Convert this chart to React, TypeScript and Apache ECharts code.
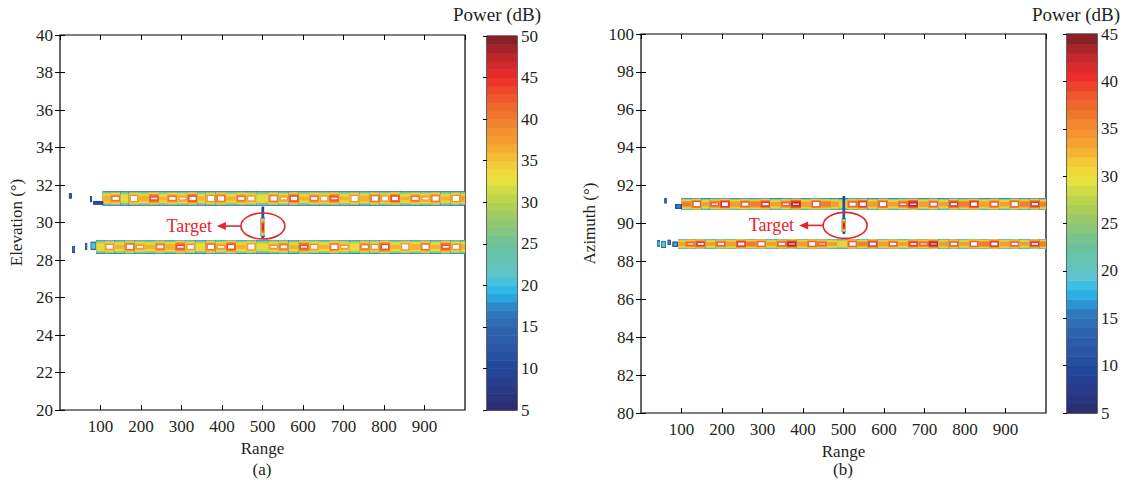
import React, { useEffect, useRef } from "react";
import * as echarts from "echarts";

// ---------------- data ----------------
const RANGE_MIN = 0;
const RANGE_MAX = 1000;
const ELEV_MIN = 20;
const ELEV_MAX = 40;
const AZ_MIN = 80;
const AZ_MAX = 100;
const CB_A = [5, 50];
const CB_B = [5, 45];

// clutter ridges: [rangeFrom, rangeTo, peak power dB]
const A_UPPER_CENTER = 31.28;
const A_UPPER_HALF = 0.36;
const A_UPPER_SEGS: number[][] = [
  [105, 125, 37], [125, 150, 41], [150, 170, 35], [170, 195, 40],
  [195, 220, 37], [220, 245, 43], [245, 265, 36], [265, 290, 41], [290, 315, 38],
  [315, 340, 44], [340, 360, 36], [360, 385, 40], [385, 410, 42], [410, 435, 36],
  [435, 460, 41], [460, 485, 39], [485, 515, 35], [515, 540, 42], [540, 565, 38],
  [565, 590, 44], [590, 615, 36], [615, 640, 41], [640, 665, 39], [665, 690, 43],
  [690, 715, 36], [715, 740, 40], [740, 765, 37], [765, 790, 42], [790, 815, 39],
  [815, 840, 44], [840, 865, 36], [865, 890, 41], [890, 915, 38], [915, 940, 42],
  [940, 965, 36], [965, 990, 40], [990, 1000, 38],
];
// isolated blobs / thin pieces: [rangeFrom, rangeTo, center, halfWidth, peak]
const A_UPPER_DOTS: number[][] = [
  [22, 28, 31.42, 0.14, 14],
  [74, 78, 31.25, 0.16, 12],
  [82, 106, 31.05, 0.1, 12],
];

const A_LOWER_CENTER = 28.7;
const A_LOWER_HALF = 0.36;
const A_LOWER_SEGS: number[][] = [
  [90, 110, 35], [110, 135, 39], [135, 160, 36], [160, 185, 42],
  [185, 210, 38], [210, 235, 36], [235, 260, 41], [260, 285, 37], [285, 310, 43],
  [310, 335, 39], [335, 360, 35], [360, 385, 42], [385, 410, 38], [410, 435, 44],
  [435, 460, 36], [460, 485, 40], [485, 515, 34], [515, 540, 38], [540, 565, 41],
  [565, 590, 36], [590, 615, 43], [615, 640, 39], [640, 665, 36], [665, 690, 42],
  [690, 715, 38], [715, 740, 35], [740, 765, 41], [765, 790, 39], [790, 815, 44],
  [815, 840, 36], [840, 865, 40], [865, 890, 37], [890, 915, 42], [915, 940, 36],
  [940, 965, 43], [965, 990, 39], [990, 1000, 37],
];
const A_LOWER_DOTS: number[][] = [
  [30, 36, 28.55, 0.18, 16],
  [62, 66, 28.72, 0.18, 16],
  [76, 88, 28.75, 0.22, 24],
];
// target: [rangeFrom, rangeTo, center, halfWidth, peak]
const A_TARGET: number[][] = [
  [498, 503, 30.0, 0.85, 14],
  [496, 505, 29.75, 0.5, 47],
];

const B_UPPER_CENTER = 91.02;
const B_UPPER_HALF = 0.3;
const B_UPPER_SEGS: number[][] = [
  [100, 125, 36], [125, 150, 40], [150, 170, 34], [170, 195, 38],
  [195, 220, 42], [220, 245, 35], [245, 270, 39], [270, 295, 37], [295, 320, 41],
  [320, 345, 34], [345, 370, 38], [370, 395, 43], [395, 420, 35], [420, 445, 40],
  [445, 470, 37], [470, 490, 35], [490, 510, 32], [510, 535, 39], [535, 560, 42],
  [560, 585, 35], [585, 610, 40], [610, 635, 34], [635, 660, 38], [660, 685, 43],
  [685, 710, 35], [710, 735, 39], [735, 760, 34], [760, 785, 41], [785, 810, 37],
  [810, 835, 42], [835, 860, 35], [860, 885, 39], [885, 910, 34], [910, 935, 40],
  [935, 960, 37], [960, 985, 41], [985, 1000, 36],
];
const B_UPPER_DOTS: number[][] = [
  [58, 62, 91.2, 0.14, 14],
  [84, 100, 90.9, 0.12, 16],
];

const B_LOWER_CENTER = 88.92;
const B_LOWER_HALF = 0.26;
const B_LOWER_SEGS: number[][] = [
  [92, 110, 34], [110, 135, 38], [135, 160, 41], [160, 185, 34], [185, 210, 39],
  [210, 235, 35], [235, 260, 42], [260, 285, 37], [285, 310, 40], [310, 335, 34],
  [335, 360, 39], [360, 385, 43], [385, 410, 35], [410, 435, 40], [435, 460, 38],
  [460, 485, 34], [485, 510, 32], [510, 535, 40], [535, 560, 36], [560, 585, 42],
  [585, 610, 35], [610, 635, 39], [635, 660, 34], [660, 685, 41], [685, 710, 38],
  [710, 735, 43], [735, 760, 35], [760, 785, 39], [785, 810, 34], [810, 835, 40],
  [835, 860, 37], [860, 885, 42], [885, 910, 35], [910, 935, 39], [935, 960, 34],
  [960, 985, 41], [985, 1000, 37],
];
const B_LOWER_DOTS: number[][] = [
  [40, 46, 88.95, 0.16, 20],
  [50, 60, 88.9, 0.18, 24],
  [66, 72, 89.0, 0.14, 16],
  [78, 90, 88.9, 0.14, 18],
];
const B_TARGET: number[][] = [
  [498, 503, 90.45, 1.0, 13],
  [496, 505, 89.9, 0.35, 43],
];

// annotation anchor (range, angle) of the target ellipse
const A_MARK = [501, 29.81];
const B_MARK = [504, 89.9];

// ---------------- colour map ----------------
const CMAP: [number, string][] = [
  [0.0, "#2b2c6c"], [0.07, "#283c8c"], [0.11, "#22469a"], [0.18, "#2b5aa7"],
  [0.22, "#2e66af"], [0.27, "#2f7ec0"], [0.3, "#27a6df"], [0.33, "#33bfe9"],
  [0.36, "#5ec3cc"], [0.44, "#6bc19e"], [0.51, "#98c86a"], [0.56, "#b8d34e"],
  [0.62, "#ece43b"], [0.67, "#f5c435"], [0.71, "#f6a230"], [0.78, "#f07d2d"],
  [0.84, "#ee552b"], [0.89, "#ec2c2a"], [0.94, "#c4272c"], [1.0, "#7a1e24"],
];
function hexToRgb(h: string) {
  return [parseInt(h.slice(1, 3), 16), parseInt(h.slice(3, 5), 16), parseInt(h.slice(5, 7), 16)];
}
function colorAt(t: number) {
  t = Math.max(0, Math.min(1, t));
  for (let i = 1; i < CMAP.length; i++) {
    if (t <= CMAP[i][0]) {
      const [t0, c0] = CMAP[i - 1];
      const [t1, c1] = CMAP[i];
      const f = (t - t0) / (t1 - t0 || 1);
      const a = hexToRgb(c0), b = hexToRgb(c1);
      const r = a.map((v, k) => Math.round(v + (b[k] - v) * f));
      return `rgb(${r[0]},${r[1]},${r[2]})`;
    }
  }
  return CMAP[CMAP.length - 1][1];
}

const FONT = "Liberation Serif";
const TXT = "#231f20";

function bandItems(segs: number[][], center: number, half: number) {
  return segs.map((s) => [s[0], s[1], center, half, s[2], 0]);
}
function blobItems(blobs: number[][], inset: number) {
  return blobs.map((b) => [b[0], b[1], b[2], b[3], b[4], inset]);
}

function makeRender(vmin: number, vmax: number) {
  return (params: any, api: any) => {
    const r0 = api.value(0), r1 = api.value(1), c = api.value(2), hw = api.value(3), pk = api.value(4), inset = api.value(5);
    const children: any[] = [];
    const levels: number[] = [];
    for (let L = vmin; L < pk; L += 2.5) levels.push(L);
    levels.forEach((L, i) => {
      const t = (L - vmin) / (pk - vmin);
      const f = Math.sqrt(Math.max(0, 1 - Math.pow(t, inset ? 2 : 3)));
      const h = hw * f;
      let x0 = r0, x1 = r1;
      if (inset) {
        const mid = (r0 + r1) / 2;
        const hx = ((r1 - r0) / 2) * Math.max(f, 0.35);
        x0 = mid - hx;
        x1 = mid + hx;
      }
      const p0 = api.coord([x0, c + h]);
      const p1 = api.coord([x1, c - h]);
      const col = colorAt((L + 1.25 - vmin) / (vmax - vmin));
      const last = i === levels.length - 1 && levels.length > 13 && !inset;
      children.push({
        type: "rect",
        shape: last
          ? { x: p0[0] + 1.5, y: p0[1], width: Math.max(0, p1[0] - p0[0] - 3), height: p1[1] - p0[1] }
          : { x: p0[0], y: p0[1], width: p1[0] - p0[0] + 0.4, height: p1[1] - p0[1] },
        style: last ? { fill: "#ffffff", stroke: col, lineWidth: 1 } : { fill: col },
      });
    });
    return { type: "group", children };
  };
}

function colorbarRender(vmin: number, vmax: number) {
  return (params: any, api: any) => {
    const v = api.value(0);
    const p0 = api.coord([0, v + 1]);
    const p1 = api.coord([1, v]);
    return {
      type: "rect",
      shape: { x: p0[0], y: p0[1], width: p1[0] - p0[0], height: p1[1] - p0[1] + 0.5 },
      style: { fill: colorAt((v + 0.5 - vmin) / (vmax - vmin)) },
    };
  };
}
function cbLevels(vmin: number, vmax: number) {
  const out: number[][] = [];
  for (let v = vmin; v < vmax; v++) out.push([v]);
  return out;
}

export default function App() {
  const ref = useRef<HTMLDivElement>(null);
  useEffect(() => {
    if (!ref.current) return;
    const chart = echarts.init(ref.current, null, { renderer: "svg" });

    const axisLabel = { color: TXT, fontFamily: FONT, fontSize: 17 };
    const tick = { show: true, inside: true, length: 5, lineStyle: { color: "#000", width: 1 } };
    const nameStyle = { color: TXT, fontFamily: FONT, fontSize: 17 };

    const mainX = (grid: number) => [
      {
        type: "value", gridIndex: grid, min: RANGE_MIN, max: RANGE_MAX, interval: 100, position: "bottom",
        axisLine: { show: false }, axisTick: tick, splitLine: { show: false },
        axisLabel: { ...axisLabel, margin: 8, showMinLabel: false, showMaxLabel: false },
        name: "Range", nameLocation: "middle", nameGap: 25, nameTextStyle: nameStyle,
      },
      {
        type: "value", gridIndex: grid, min: RANGE_MIN, max: RANGE_MAX, interval: 100, position: "top",
        axisLine: { show: false }, axisTick: tick, splitLine: { show: false }, axisLabel: { show: false },
      },
    ];
    const mainY = (grid: number, min: number, max: number, name: string, gap: number) => [
      {
        type: "value", gridIndex: grid, min, max, interval: 2, position: "left",
        axisLine: { show: false }, axisTick: tick, splitLine: { show: false },
        axisLabel: { ...axisLabel, margin: 7 },
        name, nameLocation: "middle", nameGap: gap, nameTextStyle: nameStyle,
      },
      {
        type: "value", gridIndex: grid, min, max, interval: 2, position: "right",
        axisLine: { show: false }, axisTick: tick, splitLine: { show: false }, axisLabel: { show: false },
      },
    ];
    const cbX = (grid: number) => ({ type: "value", gridIndex: grid, min: 0, max: 1, show: false });
    const cbY = (grid: number, r: number[]) => ({
      type: "value", gridIndex: grid, min: r[0], max: r[1], interval: 5, position: "right",
      axisLine: { show: false }, axisTick: { show: true, inside: true, length: 4, lineStyle: { color: "#000" } },
      splitLine: { show: false }, axisLabel: { ...axisLabel, margin: 4 },
    });

    const gridStyle = { show: true, borderColor: "#000", borderWidth: 1.2, backgroundColor: "transparent" };

    const bandSeries = (xi: number, yi: number, data: any[], r: number[]) => ({
      type: "custom", xAxisIndex: xi, yAxisIndex: yi, clip: true,
      renderItem: makeRender(r[0], r[1]),
      encode: { x: [0, 1], y: 2 },
      data,
      silent: true,
    });

    chart.setOption({
      animation: false,
      grid: [
        { left: 60, top: 35, width: 405, height: 375, ...gridStyle },
        { left: 487, top: 36, width: 30, height: 374, ...gridStyle },
        { left: 641, top: 34, width: 405, height: 379, ...gridStyle },
        { left: 1067, top: 34, width: 30, height: 379, ...gridStyle },
      ],
      xAxis: [...mainX(0), cbX(1), ...mainX(2), cbX(3)],
      yAxis: [
        ...mainY(0, ELEV_MIN, ELEV_MAX, "Elevation (°)", 35),
        cbY(1, CB_A),
        ...mainY(2, AZ_MIN, AZ_MAX, "Azimuth (°)", 43),
        cbY(3, CB_B),
      ],
      series: [
        bandSeries(0, 0, [
          ...bandItems(A_UPPER_SEGS, A_UPPER_CENTER, A_UPPER_HALF),
          ...bandItems(A_LOWER_SEGS, A_LOWER_CENTER, A_LOWER_HALF),
          ...blobItems(A_UPPER_DOTS, 1),
          ...blobItems(A_LOWER_DOTS, 1),
          ...blobItems(A_TARGET, 1),
        ], CB_A),
        bandSeries(3, 3, [
          ...bandItems(B_UPPER_SEGS, B_UPPER_CENTER, B_UPPER_HALF),
          ...bandItems(B_LOWER_SEGS, B_LOWER_CENTER, B_LOWER_HALF),
          ...blobItems(B_UPPER_DOTS, 1),
          ...blobItems(B_LOWER_DOTS, 1),
          ...blobItems(B_TARGET, 1),
        ], CB_B),
        {
          type: "custom", xAxisIndex: 2, yAxisIndex: 2, renderItem: colorbarRender(CB_A[0], CB_A[1]),
          encode: { y: 0 }, data: cbLevels(CB_A[0], CB_A[1]), silent: true,
        },
        {
          type: "custom", xAxisIndex: 5, yAxisIndex: 5, renderItem: colorbarRender(CB_B[0], CB_B[1]),
          encode: { y: 0 }, data: cbLevels(CB_B[0], CB_B[1]), silent: true,
        },
      ],
    });

    const pa = chart.convertToPixel({ xAxisIndex: 0, yAxisIndex: 0 } as any, A_MARK) as number[];
    const pb = chart.convertToPixel({ xAxisIndex: 3, yAxisIndex: 3 } as any, B_MARK) as number[];
    const RED = "#e3262d";
    const annot = (p: number[]) => {
      const ax = p[0] - 22;
      const tipX = p[0] - 46;
      return [
        { type: "ellipse", shape: { cx: p[0], cy: p[1], rx: 22, ry: 13 }, style: { fill: null, stroke: RED, lineWidth: 1.6 }, z: 100 },
        { type: "line", shape: { x1: ax, y1: p[1], x2: tipX + 6, y2: p[1] }, style: { stroke: RED, lineWidth: 1.6 }, z: 100 },
        { type: "polygon", shape: { points: [[tipX, p[1]], [tipX + 9, p[1] - 4], [tipX + 9, p[1] + 4]] }, style: { fill: RED }, z: 100 },
        {
          type: "text", x: tipX - 5, y: p[1], z: 100,
          style: { text: "Target", fill: RED, fontSize: 18, fontFamily: FONT, textAlign: "right", textVerticalAlign: "middle" },
        },
      ];
    };
    const title = (x: number, y: number, t: string, size: number) => ({
      type: "text", x, y, z: 100,
      style: { text: t, fill: TXT, fontSize: size, fontFamily: FONT, textAlign: "center", textVerticalAlign: "middle" },
    });
    chart.setOption({
      graphic: [
        ...annot(pa),
        ...annot(pb),
        title(497, 14, "Power (dB)", 19),
        title(1076, 14, "Power (dB)", 19),
        title(262, 469, "(a)", 17),
        title(843, 469, "(b)", 17),
      ],
    });

    return () => chart.dispose();
  }, []);
  return <div ref={ref} style={{ position: "absolute", left: 0, top: 0, width: 1130, height: 489 }} />;
}
